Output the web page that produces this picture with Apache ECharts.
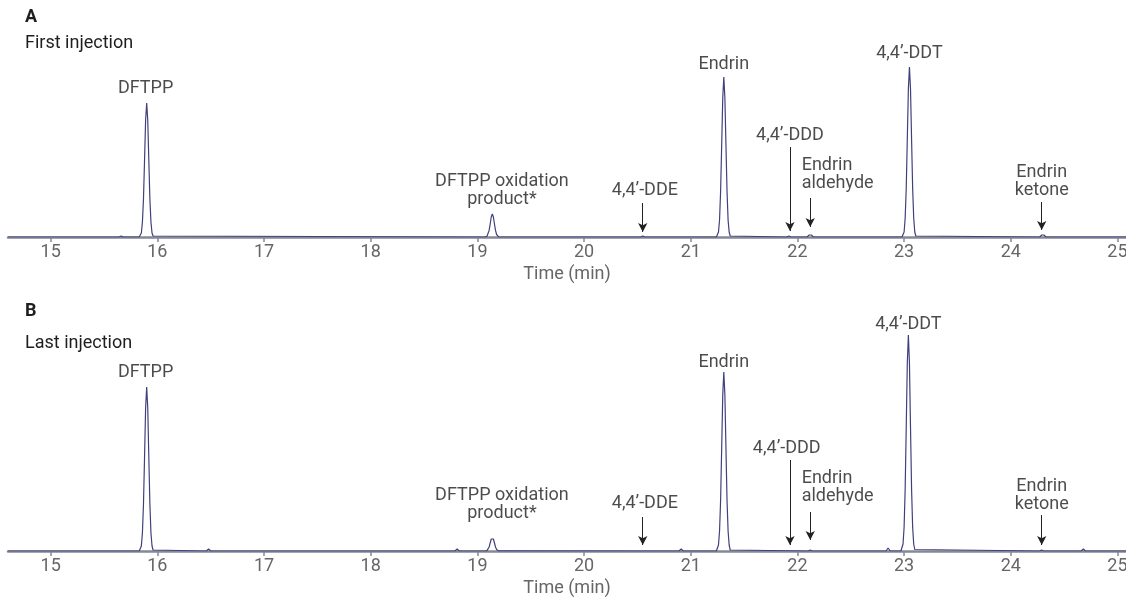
<!DOCTYPE html>
<html>
<head>
<meta charset="utf-8">
<script src="https://cdn.jsdelivr.net/npm/echarts@6/dist/echarts.min.js"></script>
<style>
  html, body { margin: 0; padding: 0; background: #ffffff; overflow: hidden; }
  #chart { width: 1126px; height: 602px; }
</style>
</head>
<body>
<div id="chart"></div>
<script>
// ---- Data ----
// Retention time (min) vs. detector response (arbitrary units)
const chromA = [
  [14.60,0],[15.64,0],[15.66,1],[15.68,0],
  [15.83,0],[15.84,1],[15.85,4],[15.86,15],[15.87,38],[15.88,77],[15.89,117],[15.90,134],[15.91,117],[15.92,77],[15.93,38],[15.94,15],[15.95,4],[15.96,1],[15.97,0],
  [19.07,0],[19.08,0.2],[19.09,0.7],[19.10,2.5],[19.11,6.6],[19.12,13],[19.13,20],[19.14,23],[19.15,20],[19.16,13],[19.17,6.6],[19.18,2.5],[19.19,0.7],[19.20,0.2],[19.21,0],
  [20.53,0],[20.55,1],[20.57,0],
  [21.24,0],[21.25,1],[21.26,5],[21.27,17],[21.28,46],[21.29,92],[21.30,139],[21.31,160],[21.32,139],[21.33,92],[21.34,46],[21.35,17],[21.36,5],[21.37,1],[21.38,0],
  [21.90,0],[21.92,1],[21.94,0],
  [22.09,0],[22.11,2],[22.13,2],[22.15,0],
  [22.98,0],[22.99,1],[23.00,5],[23.01,19],[23.02,49],[23.03,98],[23.04,148],[23.05,170],[23.06,148],[23.07,98],[23.08,49],[23.09,19],[23.10,5],[23.11,1],[23.12,0],
  [24.27,0],[24.29,2],[24.31,2],[24.33,0],
  [25.10,0]
];
const chromB = [
  [14.60,0],
  [15.83,0],[15.84,1],[15.85,5],[15.86,18],[15.87,47],[15.88,94],[15.89,143],[15.90,164],[15.91,143],[15.92,94],[15.93,47],[15.94,18],[15.95,5],[15.96,1],[15.97,0],
  [16.46,0],[16.48,2],[16.50,0],
  [18.79,0],[18.81,2],[18.83,0],
  [19.07,0],[19.08,0.1],[19.09,0.4],[19.10,1.5],[19.11,4],[19.12,8],[19.13,12],[19.14,14],[19.15,12],[19.16,8],[19.17,4],[19.18,1.5],[19.19,0.4],[19.20,0.1],[19.21,0],
  [20.89,0],[20.91,2],[20.93,0],
  [21.24,0],[21.25,1],[21.26,6],[21.27,20],[21.28,51],[21.29,103],[21.30,156],[21.31,179],[21.32,156],[21.33,103],[21.34,51],[21.35,20],[21.36,6],[21.37,1],[21.38,0],
  [22.10,0],[22.12,1],[22.14,0],
  [22.83,0],[22.85,3],[22.87,0],
  [22.97,0],[22.98,1.5],[22.99,7],[23.00,24],[23.01,62],[23.02,124],[23.03,188],[23.04,216],[23.05,188],[23.06,124],[23.07,62],[23.08,24],[23.09,7],[23.10,1.5],[23.11,0],
  [24.27,0],[24.29,1],[24.31,0],
  [24.66,0],[24.68,2],[24.70,0],
  [25.10,0]
];
const tickValues = [15, 16, 17, 18, 19, 20, 21, 22, 23, 24, 25];
const peakNames = ['DFTPP', 'DFTPP oxidation\nproduct*', '4,4\u2019-DDE', 'Endrin', '4,4\u2019-DDD', 'Endrin\naldehyde', '4,4\u2019-DDT', 'Endrin\nketone'];
const arrowNames = ['4,4\u2019-DDE', '4,4\u2019-DDD', 'Endrin\naldehyde', 'Endrin\nketone'];
const arrowTimes = [20.55, 21.93, 22.12, 24.29];
const panelTitles = ['A', 'B'];
const panelSubtitles = ['First injection', 'Last injection'];

// ---- Layout (label anchor positions, in axis units) ----
const labelLayoutA = {
  'DFTPP': [15.89, 149, 'center'],
  'DFTPP oxidation\nproduct*': [19.23, 47, 'center'],
  '4,4\u2019-DDE': [20.57, 47, 'center'],
  'Endrin': [21.31, 173, 'center'],
  '4,4\u2019-DDD': [21.93, 102, 'center'],
  'Endrin\naldehyde': [22.04, 63, 'left'],
  '4,4\u2019-DDT': [23.05, 184, 'center'],
  'Endrin\nketone': [24.29, 55.5, 'center']
};
const labelLayoutB = {
  'DFTPP': [15.89, 179, 'center'],
  'DFTPP oxidation\nproduct*': [19.23, 47, 'center'],
  '4,4\u2019-DDE': [20.57, 48, 'center'],
  'Endrin': [21.31, 189, 'center'],
  '4,4\u2019-DDD': [21.90, 103, 'center'],
  'Endrin\naldehyde': [22.04, 63.5, 'left'],
  '4,4\u2019-DDT': [23.04, 227, 'center'],
  'Endrin\nketone': [24.29, 56, 'center']
};
const arrowSpanA = [[34, 5], [90, 6], [39, 10], [35, 7]];
const arrowSpanB = [[34, 6], [91, 6], [39, 11], [36, 6]];

const FONT = 'Roboto, "Noto Sans", sans-serif';
const AXIS_COLOR = '#858996';
const LINE_COLOR = '#40407c';
const TEXT_COLOR = '#1e1e1e';
const TICK_TEXT = '#666666';

function makeXAxis(gi) {
  return {
    type: 'value', gridIndex: gi, min: 14.6, max: 25.08,
    axisLine: { show: true, lineStyle: { color: AXIS_COLOR, width: 2.5 } },
    axisTick: { show: true, customValues: tickValues, length: 5, lineStyle: { color: AXIS_COLOR, width: 1.5 } },
    axisLabel: { customValues: tickValues, color: TICK_TEXT, fontSize: 18, fontFamily: FONT, margin: 6 },
    splitLine: { show: false },
    name: 'Time (min)', nameLocation: 'middle', nameGap: 28,
    nameTextStyle: { color: TICK_TEXT, fontSize: 18, fontFamily: FONT }
  };
}
function makeYAxis(gi) {
  return { type: 'value', gridIndex: gi, min: 0, max: 230, show: false };
}
function labelData(layout) {
  return peakNames.map(n => ({
    value: [layout[n][0], layout[n][1]],
    label: { formatter: n, align: layout[n][2] }
  }));
}
function arrowData(spans) {
  return arrowNames.map((n, i) => [
    { coord: [arrowTimes[i], spans[i][0]] },
    { coord: [arrowTimes[i], spans[i][1]] }
  ]);
}
function labelSeries(gi, layout, spans) {
  return {
    type: 'scatter', xAxisIndex: gi, yAxisIndex: gi, symbolSize: 0, silent: true,
    data: labelData(layout),
    label: {
      show: true, position: [0, 0], verticalAlign: 'middle',
      color: TEXT_COLOR, fontSize: 18, fontFamily: FONT, lineHeight: 18
    },
    markLine: {
      silent: true, animation: false,
      symbol: ['none', 'arrow'], symbolSize: [7, 9],
      label: { show: false },
      lineStyle: { color: '#222222', width: 1, type: 'solid' },
      data: arrowData(spans)
    },
    z: 5
  };
}
function lineSeries(gi, data) {
  return {
    type: 'line', xAxisIndex: gi, yAxisIndex: gi, data: data,
    showSymbol: false, smooth: false, silent: true,
    lineStyle: { color: LINE_COLOR, width: 1.2 }, z: 3
  };
}

const chart = echarts.init(document.getElementById('chart'), null, { renderer: 'canvas' });
chart.setOption({
  animation: false,
  backgroundColor: '#ffffff',
  graphic: [
    { type: 'text', x: 25, y: 17, style: { text: panelTitles[0], font: 'bold 18px ' + FONT, fill: TEXT_COLOR, verticalAlign: 'middle' } },
    { type: 'text', x: 25, y: 43, style: { text: panelSubtitles[0], font: '18px ' + FONT, fill: TEXT_COLOR, verticalAlign: 'middle' } },
    { type: 'text', x: 25, y: 311, style: { text: panelTitles[1], font: 'bold 18px ' + FONT, fill: TEXT_COLOR, verticalAlign: 'middle' } },
    { type: 'text', x: 25, y: 343, style: { text: panelSubtitles[1], font: '18px ' + FONT, fill: TEXT_COLOR, verticalAlign: 'middle' } }
  ],
  grid: [
    { left: 8, right: 0, top: 7, height: 230, outerBoundsMode: 'none', containLabel: false },
    { left: 8, right: 0, top: 321, height: 230, outerBoundsMode: 'none', containLabel: false }
  ],
  xAxis: [makeXAxis(0), makeXAxis(1)],
  yAxis: [makeYAxis(0), makeYAxis(1)],
  series: [
    lineSeries(0, chromA),
    lineSeries(1, chromB),
    labelSeries(0, labelLayoutA, arrowSpanA),
    labelSeries(1, labelLayoutB, arrowSpanB)
  ]
});
</script>
</body>
</html>
